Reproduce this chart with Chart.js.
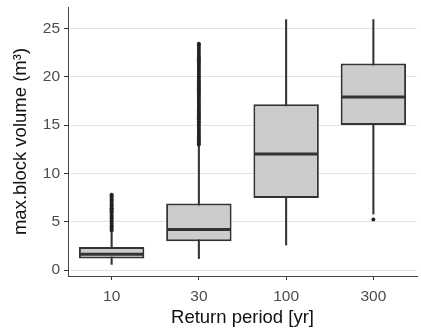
<!DOCTYPE html>
<html>
<head>
<meta charset="utf-8">
<script src="https://cdn.jsdelivr.net/npm/chart.js@4/dist/chart.umd.min.js"></script>
<style>
    body { margin: 0; background: #fff; }
    #wrap { width: 421px; height: 330px; position: relative; }
</style>
</head>
<body>
<div id="wrap"><canvas id="boxChart"></canvas></div>
<script>
// Box plot data
const periods = ['10', '30', '100', '300'];
const lowWhisker = [0.6, 1.2, 2.6, 5.8];
const q1 = [1.2, 3.0, 7.45, 15.0];
const median = [1.65, 4.2, 12.0, 17.9];
const q3 = [2.4, 6.9, 17.15, 21.35];
const highWhisker = [4.0, 12.8, 25.9, 25.9];
const yTicks = [0, 5, 10, 15, 20, 25];

// Outliers per period (dense columns in the picture)
const outliers10 = [4.1, 4.3, 4.5, 4.6, 4.8, 5.0, 5.2, 5.4, 5.5, 5.7, 5.9, 6.1, 6.3, 6.4, 6.6,
    6.8, 7.0, 7.2, 7.3, 7.5, 7.7, 7.8];
const outliers30 = [13.0, 13.2, 13.4, 13.6, 13.8, 14.0, 14.2, 14.4, 14.6, 14.8, 15.0, 15.2, 15.4,
    15.6, 15.8, 16.0, 16.2, 16.4, 16.6, 16.8, 17.0, 17.2, 17.4, 17.6, 17.8, 18.0, 18.2, 18.4,
    18.6, 18.8, 19.0, 19.2, 19.4, 19.6, 19.8, 20.0, 20.2, 20.4, 20.6, 20.8, 21.0, 21.2, 21.4,
    21.6, 21.8, 22.0, 22.25, 22.5, 22.75, 23.0, 23.25, 23.4];
const outliers300 = [5.25];

const outlierPoints = [];
outliers10.forEach(v => outlierPoints.push({ x: periods[0], y: v }));
outliers30.forEach(v => outlierPoints.push({ x: periods[1], y: v }));
outliers300.forEach(v => outlierPoints.push({ x: periods[3], y: v }));

const fontFamily = '"Liberation Sans", Arial, sans-serif';

// Median lines drawn over the boxes through the scales
const medianPlugin = {
    id: 'medianLines',
    afterDatasetsDraw(chart) {
        const meta = chart.getDatasetMeta(1);
        const yScale = chart.scales.y;
        const ctx = chart.ctx;
        ctx.save();
        ctx.strokeStyle = '#333333';
        ctx.lineWidth = 3;
        meta.data.forEach((bar, i) => {
            const y = yScale.getPixelForValue(median[i]);
            ctx.beginPath();
            ctx.moveTo(bar.x - bar.width / 2 + 1, y);
            ctx.lineTo(bar.x + bar.width / 2 - 1, y);
            ctx.stroke();
        });
        ctx.restore();
    }
};

const ctx = document.getElementById('boxChart').getContext('2d');
new Chart(ctx, {
    type: 'bar',
    data: {
        labels: periods,
        datasets: [
            {
                // whiskers
                data: periods.map((p, i) => [lowWhisker[i], highWhisker[i]]),
                backgroundColor: '#333333',
                barThickness: 1.4,
                grouped: false,
                order: 3
            },
            {
                // boxes
                data: periods.map((p, i) => [q1[i], q3[i]]),
                backgroundColor: '#cccccc',
                borderColor: '#333333',
                borderWidth: 2,
                borderSkipped: false,
                barPercentage: 0.75,
                categoryPercentage: 1,
                grouped: false,
                order: 2
            },
            {
                // outliers
                type: 'scatter',
                data: outlierPoints,
                backgroundColor: '#222222',
                borderWidth: 0,
                pointRadius: 2,
                order: 1
            }
        ]
    },
    options: {
        responsive: true,
        maintainAspectRatio: false,
        animation: false,
        layout: { padding: { top: 7, right: 0, left: 0, bottom: 0 } },
        plugins: {
            legend: { display: false },
            tooltip: { enabled: false }
        },
        scales: {
            x: {
                type: 'category',
                offset: true,
                afterFit: scale => {
                    scale.height = 54;
                    scale.paddingLeft = 0;
                    scale.paddingRight = 0;
                },
                grid: {
                    offset: false,
                    drawOnChartArea: false,
                    tickLength: 4,
                    tickColor: '#333333'
                },
                border: { color: '#444444', width: 1 },
                ticks: {
                    color: '#4d4d4d',
                    padding: 7,
                    font: { family: fontFamily, size: 15.5 }
                },
                title: {
                    display: true,
                    text: 'Return period [yr]',
                    color: '#111111',
                    padding: { top: 0, bottom: 1 },
                    font: { family: fontFamily, size: 18.5 }
                }
            },
            y: {
                min: -0.6,
                max: 27.2,
                afterFit: scale => {
                    scale.width = 68;
                    scale.paddingTop = 0;
                    scale.paddingBottom = 0;
                },
                afterBuildTicks: scale => {
                    scale.ticks = yTicks.map(v => ({ value: v }));
                },
                grid: {
                    color: '#e3e3e3',
                    lineWidth: 1,
                    tickLength: 4,
                    tickColor: '#333333'
                },
                border: { color: '#444444', width: 1 },
                ticks: {
                    color: '#4d4d4d',
                    padding: 4,
                    font: { family: fontFamily, size: 15.5 }
                },
                title: {
                    display: true,
                    text: 'max.block volume (m³)',
                    color: '#111111',
                    padding: { top: 10, bottom: 0 },
                    font: { family: fontFamily, size: 18.5 }
                }
            }
        }
    },
    plugins: [medianPlugin]
});
</script>
</body>
</html>
